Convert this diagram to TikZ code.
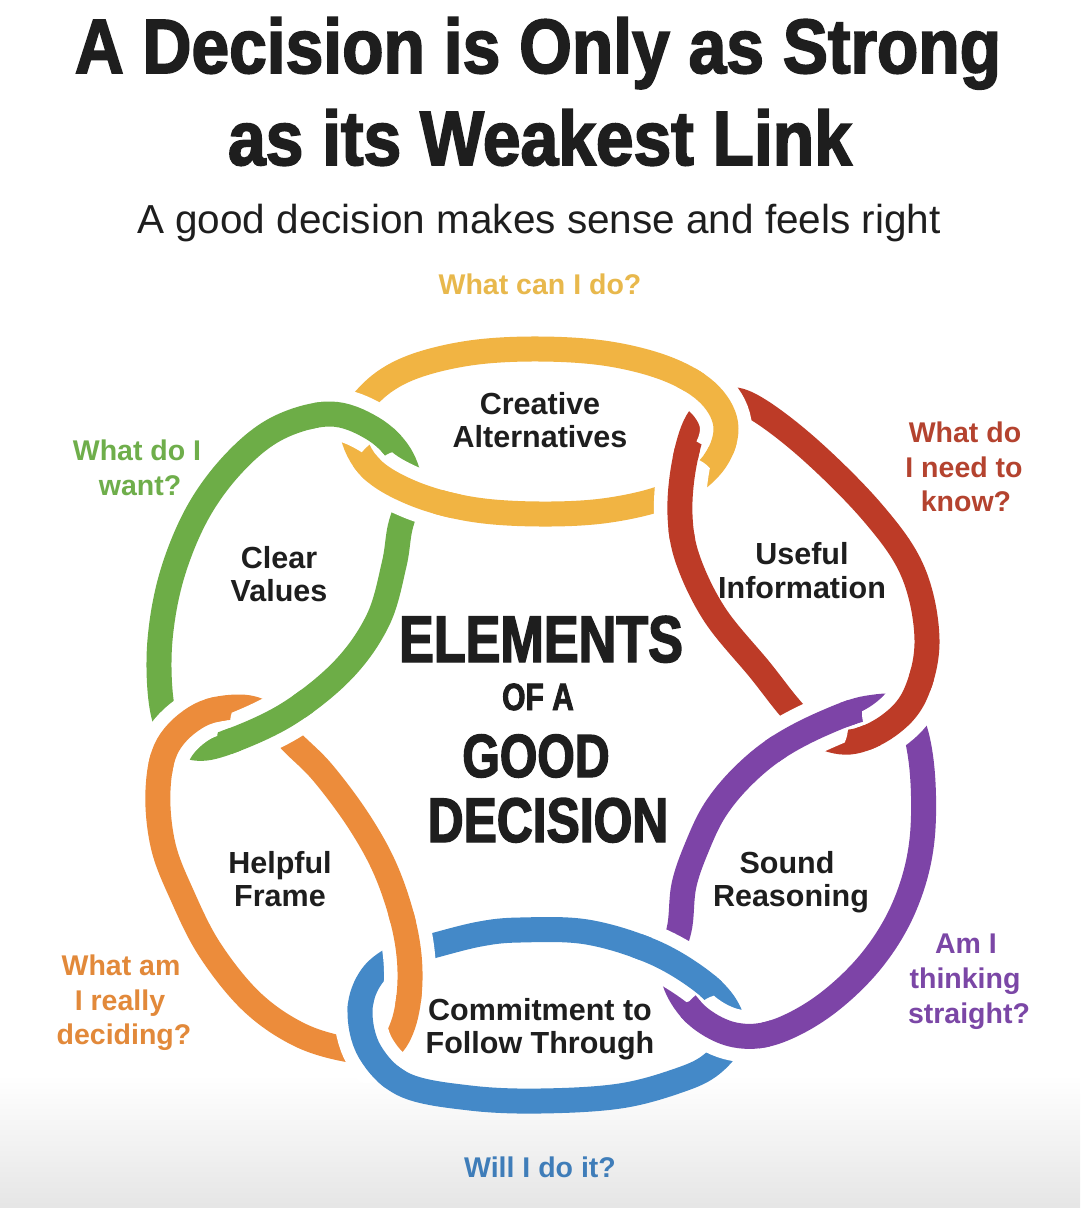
\documentclass[tikz,border=0pt]{standalone}
\usepackage{fontspec}
\setmainfont{Liberation Sans}
\newfontfamily\titlefont[FakeStretch=0.88, FakeBold=2.2]{Liberation Sans}
\newfontfamily\centerfont[FakeStretch=0.79, FakeBold=2.2]{Liberation Sans}
\definecolor{ink}{HTML}{1E1E1E}
\definecolor{lyellow}{HTML}{F1B443}
\definecolor{lred}{HTML}{BD3B27}
\definecolor{lpurple}{HTML}{7D44A7}
\definecolor{lblue}{HTML}{4489C8}
\definecolor{lorange}{HTML}{EC8C3B}
\definecolor{lgreen}{HTML}{6DAD47}
\definecolor{qyellow}{HTML}{E8B84C}
\definecolor{qgreen}{HTML}{6FAE4B}
\definecolor{qred}{HTML}{B4432F}
\definecolor{qorange}{HTML}{E2893A}
\definecolor{qpurple}{HTML}{7B47A6}
\definecolor{qblue}{HTML}{3F7DB9}
\newcommand\crossfix[4][47]{%
  \begin{scope}\clip #2 circle[radius=38]; \draw[halo,#3];\end{scope}%
  \begin{scope}\clip #2 circle[radius=#1]; \draw[link,#4,#3];\end{scope}}
\begin{document}
\begin{tikzpicture}[x=1pt, y=-1pt,
  link/.style={line width=25pt, line join=round},
  halo/.style={line width=52pt, draw=white},
  yellowring/.style={insert path={plot[smooth cycle, tension=0.6] coordinates {(352,425) (372,392) (410,368) (470,353) (540,349) (610,354) (670,370) (710,395) (726,428) (712,465) (672,494) (610,510) (540,514) (470,509) (410,492) (368,465)}}},
  greenring/.style={insert path={plot[smooth cycle, tension=0.6] coordinates {(172,735) (161,700) (160,640) (172,575) (198,512) (235,462) (278,428) (330,414) (372,428) (400,455) (410,490) (400,528) (394,565) (378,620) (343,670) (288,714) (228,742) (195,748)}}},
  redring/.style={insert path={plot[smooth cycle, tension=0.6] coordinates {(697,422) (720,402) (750,405) (807,447) (873,513) (913,572) (927,640) (915,695) (888,726) (850,742) (815,733) (790,708) (760,670) (715,615) (688,560) (680,515) (684,465)}}},
  purplering/.style={insert path={plot[smooth cycle, tension=0.6] coordinates {(905,712) (921,760) (922,840) (905,905) (872,960) (825,1005) (775,1032) (735,1035) (700,1018) (678,990) (672,960) (680,925) (684,885) (697,847) (715,810) (742,777) (777,748) (822,724) (868,708)}}},
  bluering/.style={insert path={plot[smooth cycle, tension=0.6] coordinates {(432,946) (480,934) (520,930) (587,932) (653,952) (703,982) (728,1010) (732,1038) (712,1064) (680,1080) (620,1096) (540,1101) (470,1098) (405,1085) (370,1052) (360,1010) (372,976) (400,955)}}},
  orangering/.style={insert path={plot[smooth cycle, tension=0.6] coordinates {(268,716) (292,742) (323,773) (360,823) (387,873) (405,930) (410,980) (403,1025) (385,1050) (350,1050) (300,1035) (252,1002) (210,950) (182,895) (163,845) (158,790) (168,745) (200,715) (240,707)}}},
  ttl/.style={font=\titlefont\bfseries\fontsize{77}{80}\selectfont, text=ink, anchor=base, inner sep=0pt},
  subt/.style={font=\fontsize{40.5}{44}\selectfont, text=ink, anchor=base, inner sep=0pt},
  elem/.style={font=\bfseries\fontsize{30.5}{33}\selectfont, text=ink, anchor=base, inner sep=0pt},
  ques/.style={font=\bfseries\fontsize{28.5}{31}\selectfont, anchor=base, inner sep=0pt},
  ctr/.style={text=ink, anchor=base, inner sep=0pt}
]
\useasboundingbox (0,0) rectangle (1080,1208);
\fill[white] (0,0) rectangle (1080,1208);
\shade[top color=white, bottom color=black!10] (0,1075) rectangle (1080,1208);

% chain links
\draw[link, lyellow, yellowring];
\draw[link, lred, redring];
\draw[link, lpurple, purplering];
\draw[link, lblue, bluering];
\draw[link, lorange, orangering];
\draw[link, lgreen, greenring];

% crossings: the link on top is redrawn locally with a white gap
\crossfix{(356,422)}{greenring}{lgreen}
\crossfix[56]{(405,488)}{yellowring}{lyellow}
\crossfix{(718,410)}{yellowring}{lyellow}
\crossfix{(682,494)}{redring}{lred}
\crossfix{(810,727)}{purplering}{lpurple}
\crossfix{(900,713)}{redring}{lred}
\crossfix{(678,965)}{bluering}{lblue}
\crossfix{(725,1032)}{purplering}{lpurple}
\crossfix{(406,958)}{orangering}{lorange}
\crossfix{(367,1045)}{bluering}{lblue}
\crossfix{(180,728)}{orangering}{lorange}
\crossfix{(268,724)}{greenring}{lgreen}

% titles
\node[ttl] (title1) at (538,73) {A Decision is Only as Strong};
\node[ttl] (title2) at (540,165) {as its Weakest Link};
\node[subt] (subtitle) at (539,233) {A good decision makes sense and feels right};

% questions
\node[ques, text=qyellow] (qtop) at (540,294) {What can I do?};
\node[ques, text=qgreen] (qgreen1) at (137,460) {What do I};
\node[ques, text=qgreen] (qgreen2) at (140,495) {want?};
\node[ques, text=qred] (qred1) at (965,442) {What do};
\node[ques, text=qred] (qred2) at (964,477) {I need to};
\node[ques, text=qred] (qred3) at (966,511) {know?};
\node[ques, text=qorange] (qor1) at (121,975) {What am};
\node[ques, text=qorange] (qor2) at (120,1010) {I really};
\node[ques, text=qorange] (qor3) at (124,1044) {deciding?};
\node[ques, text=qpurple] (qpu1) at (966,953) {Am I};
\node[ques, text=qpurple] (qpu2) at (965,988) {thinking};
\node[ques, text=qpurple] (qpu3) at (969,1023) {straight?};
\node[ques, text=qblue] (qbl) at (540,1177) {Will I do it?};

% element labels
\node[elem] (ca1) at (540,414) {Creative};
\node[elem] (ca2) at (540,447) {Alternatives};
\node[elem] (cv1) at (279,568) {Clear};
\node[elem] (cv2) at (279,601) {Values};
\node[elem] (ui1) at (802,564) {Useful};
\node[elem] (ui2) at (802,598) {Information};
\node[elem] (hf1) at (280,873) {Helpful};
\node[elem] (hf2) at (280,906) {Frame};
\node[elem] (sr1) at (787,873) {Sound};
\node[elem] (sr2) at (791,906) {Reasoning};
\node[elem] (cf1) at (540,1020) {Commitment to};
\node[elem] (cf2) at (540,1053) {Follow Through};

% centre
\node[ctr, font=\centerfont\bfseries\fontsize{66}{70}\selectfont] (c1) at (541,662) {ELEMENTS};
\node[ctr, font=\centerfont\bfseries\fontsize{38}{40}\selectfont] (c2) at (538,710) {OF A};
\node[ctr, font=\centerfont\bfseries\fontsize{61}{64}\selectfont] (c3) at (536,777) {GOOD};
\node[ctr, font=\centerfont\bfseries\fontsize{63}{66}\selectfont] (c4) at (548,842) {DECISION};
\end{tikzpicture}
\end{document}
